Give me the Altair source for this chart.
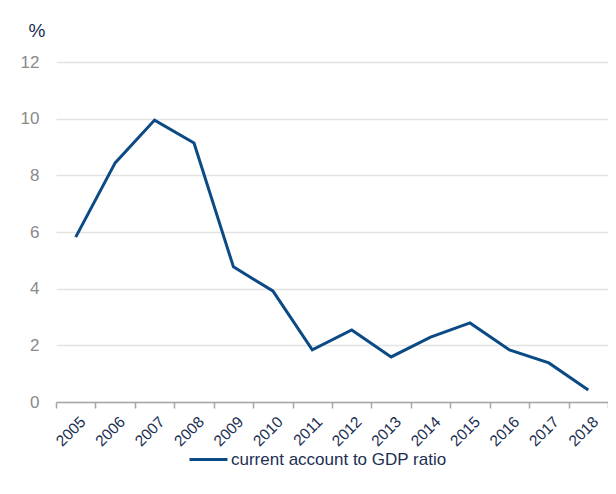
import altair as alt
import pandas as pd

years = [str(y) for y in range(2005, 2019)]
ratio = [5.82, 8.44, 9.95, 9.14, 4.77, 3.92, 1.84, 2.54, 1.59, 2.29, 2.79, 1.84, 1.38, 0.42]
series = ["current account to GDP ratio"] * len(years)

df = pd.DataFrame({"year": years, "value": ratio, "series": series})

navy = "#1c2f52"
line_col = "#0b4a85"
font = "Arial"

chart = alt.Chart(df).mark_line(strokeWidth=3, color=line_col).encode(
    x=alt.X("year:N", scale=alt.Scale(type="band", paddingInner=0, paddingOuter=0),
            bandPosition=0.5,
            axis=alt.Axis(title=None, labelAngle=-45, labelAlign="right", labelBaseline="top",
                          tickBand="extent", grid=False, domainColor="#a6a6a6", domainWidth=1.5,
                          tickColor="#a6a6a6", tickWidth=1.5, tickSize=6,
                          labelColor=navy, labelFontSize=15.5, labelFont=font,
                          labelPadding=6, labelOffset=2)),
    y=alt.Y("value:Q", scale=alt.Scale(domain=[0, 12]),
            axis=alt.Axis(values=[0, 2, 4, 6, 8, 10, 12], title="%", titleAngle=0,
                          titleAlign="left", titleBaseline="bottom", titleX=-28, titleY=-22,
                          titleColor=navy, titleFontSize=19, titleFontWeight="normal",
                          titleFont=font,
                          domain=False, ticks=False, labelPadding=17, labelColor="#8a8a8a",
                          labelFontSize=17, labelFont=font,
                          gridColor="#e3e3e3", gridWidth=1.5)),
    color=alt.Color("series:N", scale=alt.Scale(range=[line_col]),
                    legend=alt.Legend(title=None, orient="none", legendX=132, legendY=377,
                                      symbolType="stroke", symbolSize=1444, symbolStrokeWidth=3,
                                      labelFontSize=17, labelColor=navy, labelLimit=0,
                                      labelFont=font, labelOffset=2)),
).properties(
    width=552, height=340,
    padding={"left": 48, "top": 54, "right": 0, "bottom": 82},
    autosize=alt.AutoSizeParams(type="none"),
).configure_view(stroke=None)

chart.save("out.html", embed_options={"renderer": "svg", "actions": False})
